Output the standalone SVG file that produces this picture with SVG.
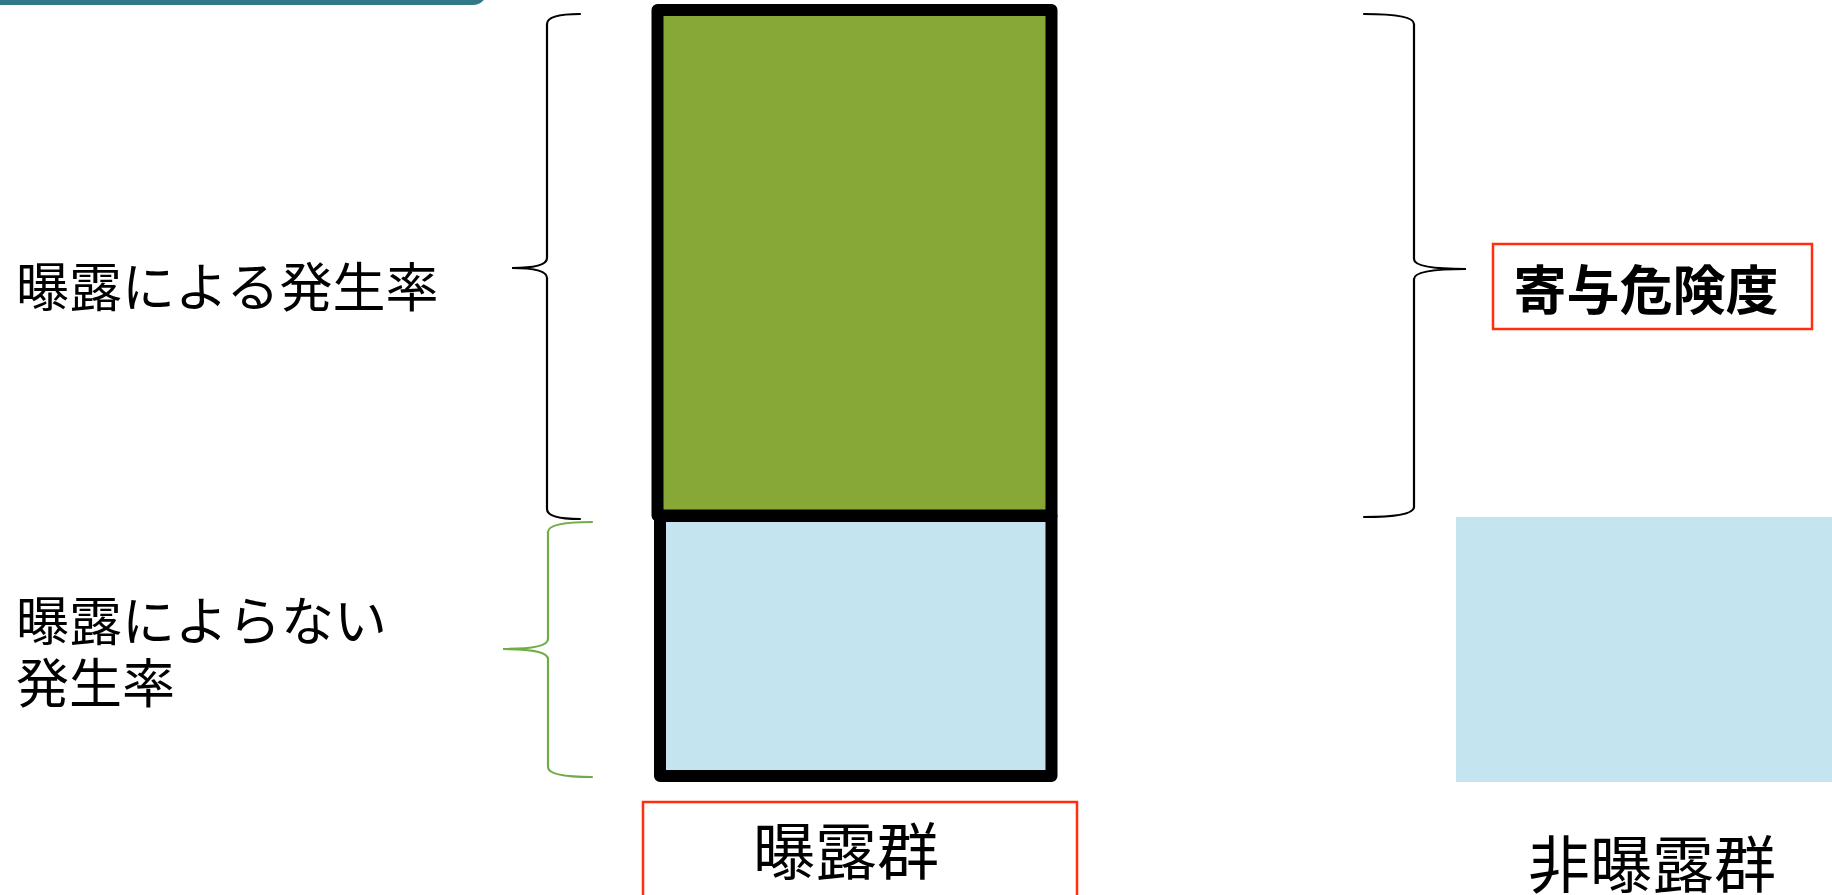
<svg xmlns="http://www.w3.org/2000/svg" width="1832" height="895" viewBox="0 0 1832 895">
  <style>
    .bar { stroke: #000; stroke-width: 12; stroke-linejoin: round; }
    .brace { fill: none; stroke-width: 2.2; stroke-linecap: round; }
    .lbl { font-family: "Noto Sans CJK JP", "Noto Sans", sans-serif; fill: #000; }
    .redbox { fill: none; stroke: #ff2e0e; stroke-width: 2.5; }
  </style>
  <rect width="1832" height="895" fill="#fff"/>
  <g id="banner">
    <rect x="-30" y="-30" width="517" height="35" rx="14" fill="#2f7989"/>
  </g>
  <g id="exposed-bar">
    <rect class="bar" x="657.5" y="10" width="394" height="505.5" fill="#87a736"/>
    <rect class="bar" x="660" y="516" width="391.5" height="260" fill="#c4e5ef"/>
  </g>
  <g id="nonexposed-bar">
    <rect x="1456" y="517" width="376" height="265" fill="#c4e5ef"/>
  </g>
  <g id="connectors">
    <path class="brace" stroke="#000" d="M580 14 Q547 14 547 24 L547 258 Q547 268 512 268 Q547 268 547 278 L547 509 Q547 519 580 519"/>
    <path class="brace" stroke="#70ad47" d="M592 522 Q548 522 548 532 L548 639 Q548 649 503 649 Q548 649 548 659 L548 767 Q548 777 592 777"/>
    <path class="brace" stroke="#000" d="M1364 14 Q1414 14 1414 24 L1414 259 Q1414 269 1466 269 Q1414 269 1414 279 L1414 507 Q1414 517 1364 517"/>
  </g>
  <g id="label-exposure-incidence">
    <text class="lbl" x="16" y="307" font-size="53">曝露による発生率</text>
  </g>
  <g id="label-nonexposure-incidence">
    <text class="lbl" x="16" y="641" font-size="53">曝露によらない</text>
    <text class="lbl" x="16" y="703" font-size="53">発生率</text>
  </g>
  <g id="attributable-risk">
    <rect class="redbox" x="1493" y="244" width="319" height="85"/>
    <text class="lbl" x="1646" y="310" font-size="53" font-weight="bold" text-anchor="middle">寄与危険度</text>
  </g>
  <g id="exposed-group">
    <rect class="redbox" x="643" y="802" width="434" height="130"/>
    <text class="lbl" x="846" y="875" font-size="62" text-anchor="middle">曝露群</text>
  </g>
  <g id="nonexposed-group">
    <text class="lbl" x="1652" y="888" font-size="62" text-anchor="middle">非曝露群</text>
  </g>
</svg>
